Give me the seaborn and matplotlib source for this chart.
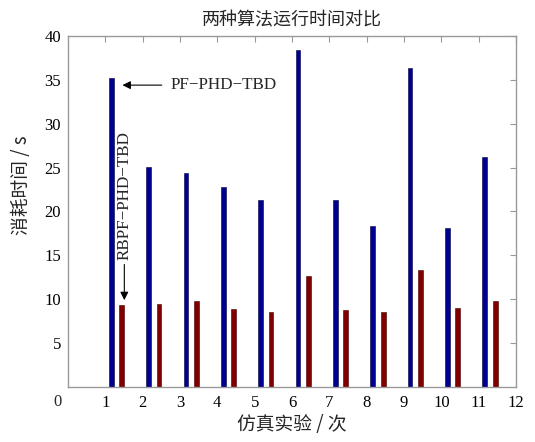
import numpy as np
import pandas as pd
import matplotlib
matplotlib.use("Agg")
import matplotlib.pyplot as plt
import matplotlib.transforms as mtransforms
import seaborn as sns

# ---- data ----
runs = [1, 2, 3, 4, 5, 6, 7, 8, 9, 10, 11]
pf_phd_tbd = [35.2, 25.1, 24.4, 22.8, 21.3, 38.4, 21.3, 18.3, 36.3, 18.1, 26.2]
rbpf_phd_tbd = [9.4, 9.5, 9.85, 8.9, 8.55, 12.7, 8.8, 8.55, 13.3, 9.0, 9.85]
x_ticks = list(range(1, 13))
y_ticks = [5, 10, 15, 20, 25, 30, 35, 40]
title = "两种算法运行时间对比"
xlabel = "仿真实验 / 次"
ylabel = "消耗时间 / s"

sns.set_theme(style="white")
serif = ["Liberation Serif", "Noto Sans CJK SC"]
cjk = ["Noto Sans CJK SC", "Liberation Serif"]
plt.rcParams["font.family"] = serif

fig = plt.figure(figsize=(5.35, 4.42), dpi=100)
ax = fig.add_axes([0.127, 0.1244, 0.8375, 0.7942])

df_pf = pd.DataFrame({"pos": np.array(runs) + 0.16, "t": pf_phd_tbd})
df_rb = pd.DataFrame({"pos": np.array(runs) + 0.44, "t": rbpf_phd_tbd})
sns.barplot(data=df_pf, x="pos", y="t", native_scale=True, width=0.13,
            color="#000090", saturation=1, edgecolor="#000040", linewidth=0.4, ax=ax)
sns.barplot(data=df_rb, x="pos", y="t", native_scale=True, width=0.13,
            color="#800000", saturation=1, edgecolor="#400000", linewidth=0.4, ax=ax)

ax.set_xlim(0, 12)
ax.set_ylim(0, 40)
ax.set_xticks(x_ticks)
ax.set_xticklabels([str(v) for v in x_ticks])
ax.set_yticks(y_ticks)
ax.set_yticklabels([str(v) for v in y_ticks])
ax.tick_params(direction="in", length=4, width=0.8, color="#999999",
               top=True, right=True, labelsize=12, labelcolor="black")
ax.tick_params(axis="x", pad=6)
ax.tick_params(axis="y", pad=5)
for s in ax.spines.values():
    s.set_visible(True)
    s.set_color("#999999")
    s.set_linewidth(1.0)
trans = mtransforms.blended_transform_factory(ax.transData, ax.transAxes)
ax.text(-0.27, -0.043, "0", transform=trans, ha="center", va="center",
        fontsize=12, family=serif)

ax.set_title(title, family=cjk, fontsize=13, pad=8)
ax.set_xlabel(xlabel, family=cjk, fontsize=13.5, labelpad=2)
ax.set_ylabel(ylabel, family=cjk, fontsize=13.5)
ax.yaxis.set_label_coords(-0.08, 0.575)

ax.annotate("PF\u2212PHD\u2212TBD", xy=(1.46, 34.4), xytext=(2.75, 34.4),
            ha="left", va="center", fontsize=12.3, family=serif,
            arrowprops=dict(arrowstyle="-|>", color="black", lw=0.8,
                            mutation_scale=12, shrinkA=4, shrinkB=0))
ax.annotate("RBPF\u2212PHD\u2212TBD", xy=(1.51, 9.9), xytext=(1.51, 14.5),
            ha="center", va="bottom", rotation=90, fontsize=12.3, family=serif,
            arrowprops=dict(arrowstyle="-|>", color="black", lw=0.8,
                            mutation_scale=12, shrinkA=1, shrinkB=0))

fig.savefig("out.png", dpi=100)
